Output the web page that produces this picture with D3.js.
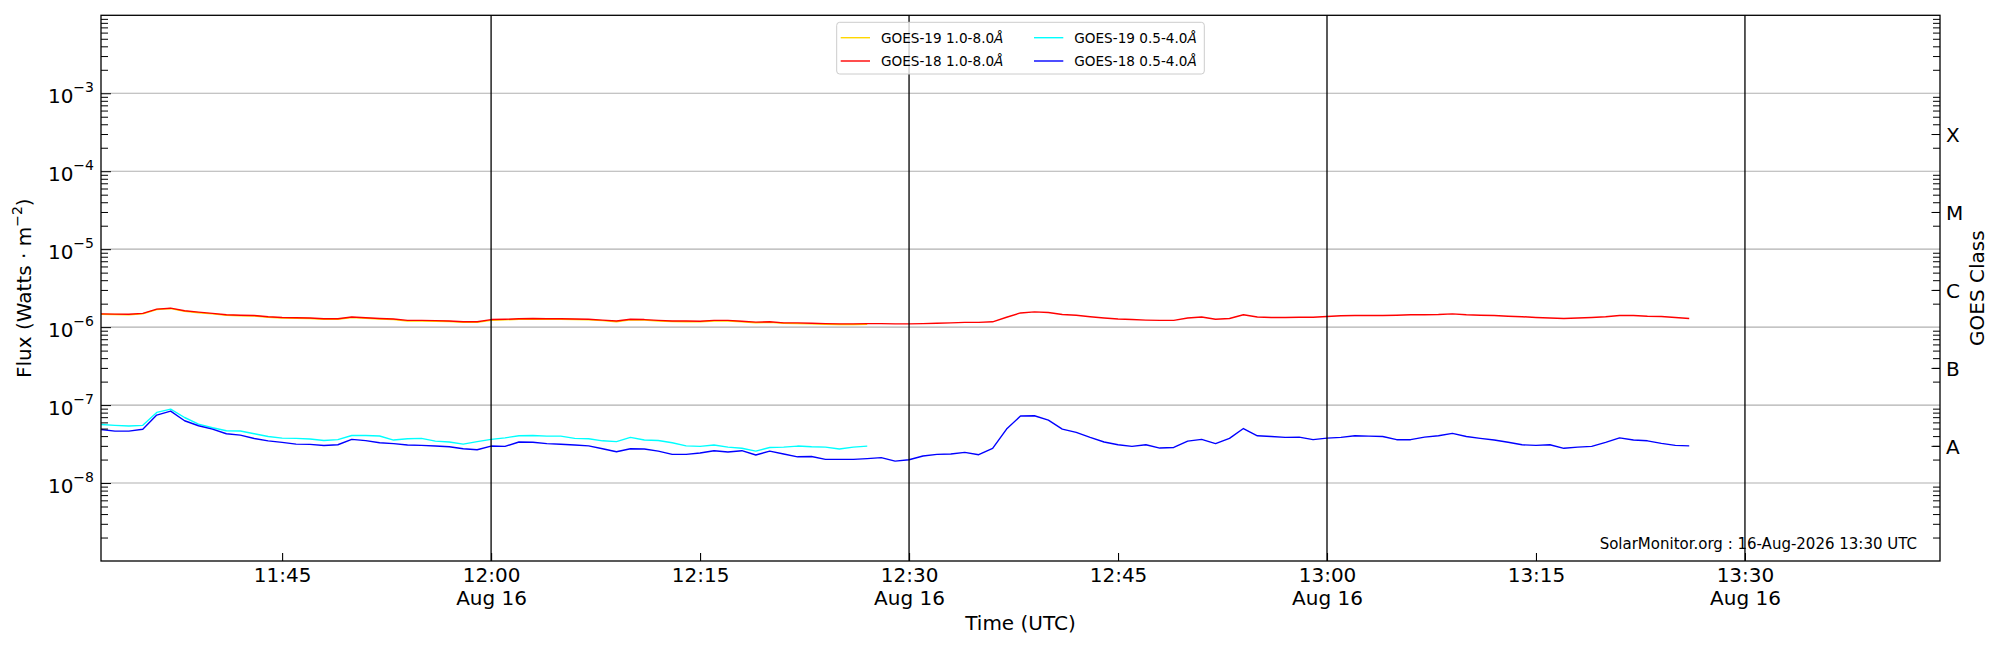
<!DOCTYPE html>
<html>
<head>
<meta charset="utf-8">
<script src="https://cdn.jsdelivr.net/npm/d3@7"></script>
<style>
  body { margin: 0; background: #fff; }
  svg { display: block; font-family: "DejaVu Sans", sans-serif; }
</style>
</head>
<body>
<svg id="chart" width="2000" height="650"></svg>
<script>
// GOES X-ray flux, one-minute samples on 16 Aug
const day = "2026-08-16";

const sampleTimes = [
  "11:32","11:33","11:34","11:35","11:36","11:37","11:38","11:39","11:40","11:41",
  "11:42","11:43","11:44","11:45","11:46","11:47","11:48","11:49","11:50","11:51",
  "11:52","11:53","11:54","11:55","11:56","11:57","11:58","11:59","12:00","12:01",
  "12:02","12:03","12:04","12:05","12:06","12:07","12:08","12:09","12:10","12:11",
  "12:12","12:13","12:14","12:15","12:16","12:17","12:18","12:19","12:20","12:21",
  "12:22","12:23","12:24","12:25","12:26","12:27","12:28","12:29","12:30","12:31",
  "12:32","12:33","12:34","12:35","12:36","12:37","12:38","12:39","12:40","12:41",
  "12:42","12:43","12:44","12:45","12:46","12:47","12:48","12:49","12:50","12:51",
  "12:52","12:53","12:54","12:55","12:56","12:57","12:58","12:59","13:00","13:01",
  "13:02","13:03","13:04","13:05","13:06","13:07","13:08","13:09","13:10","13:11",
  "13:12","13:13","13:14","13:15","13:16","13:17","13:18","13:19","13:20","13:21",
  "13:22","13:23","13:24","13:25","13:26"
];

// GOES-19 1.0-8.0 A (gold), 11:32 - 12:27
const goes19Long = [
  1.46e-6,1.45e-6,1.44e-6,1.48e-6,1.68e-6,1.73e-6,1.60e-6,1.53e-6,1.48e-6,1.42e-6,
  1.40e-6,1.39e-6,1.34e-6,1.31e-6,1.30e-6,1.29e-6,1.26e-6,1.26e-6,1.33e-6,1.30e-6,
  1.27e-6,1.25e-6,1.20e-6,1.20e-6,1.19e-6,1.18e-6,1.15e-6,1.15e-6,1.22e-6,1.24e-6,
  1.26e-6,1.27e-6,1.26e-6,1.26e-6,1.25e-6,1.24e-6,1.21e-6,1.17e-6,1.24e-6,1.23e-6,
  1.20e-6,1.18e-6,1.17e-6,1.17e-6,1.20e-6,1.20e-6,1.17e-6,1.14e-6,1.15e-6,1.12e-6,
  1.11e-6,1.10e-6,1.09e-6,1.08e-6,1.08e-6,1.09e-6
];

// GOES-18 1.0-8.0 A (red), 11:32 - 13:26
const goes18Long = [
  1.48e-6,1.47e-6,1.46e-6,1.50e-6,1.70e-6,1.75e-6,1.62e-6,1.56e-6,1.50e-6,1.44e-6,
  1.42e-6,1.41e-6,1.36e-6,1.33e-6,1.32e-6,1.31e-6,1.28e-6,1.28e-6,1.35e-6,1.32e-6,
  1.29e-6,1.27e-6,1.22e-6,1.22e-6,1.21e-6,1.20e-6,1.17e-6,1.17e-6,1.25e-6,1.26e-6,
  1.28e-6,1.29e-6,1.28e-6,1.28e-6,1.27e-6,1.26e-6,1.23e-6,1.20e-6,1.26e-6,1.25e-6,
  1.22e-6,1.20e-6,1.20e-6,1.19e-6,1.22e-6,1.22e-6,1.19e-6,1.16e-6,1.17e-6,1.135e-6,
  1.135e-6,1.12e-6,1.11e-6,1.10e-6,1.10e-6,1.11e-6,1.11e-6,1.10e-6,1.10e-6,1.11e-6,
  1.12e-6,1.135e-6,1.15e-6,1.15e-6,1.17e-6,1.34e-6,1.52e-6,1.57e-6,1.54e-6,1.45e-6,
  1.42e-6,1.36e-6,1.31e-6,1.27e-6,1.25e-6,1.23e-6,1.22e-6,1.22e-6,1.31e-6,1.35e-6,
  1.26e-6,1.29e-6,1.44e-6,1.35e-6,1.33e-6,1.33e-6,1.34e-6,1.34e-6,1.37e-6,1.40e-6,
  1.41e-6,1.41e-6,1.41e-6,1.42e-6,1.44e-6,1.44e-6,1.45e-6,1.48e-6,1.44e-6,1.42e-6,
  1.41e-6,1.38e-6,1.36e-6,1.33e-6,1.31e-6,1.29e-6,1.31e-6,1.33e-6,1.36e-6,1.41e-6,
  1.41e-6,1.38e-6,1.37e-6,1.33e-6,1.29e-6
];

// GOES-19 0.5-4.0 A (cyan), 11:32 - 12:27
const goes19Short = [
  5.64e-8,5.50e-8,5.40e-8,5.50e-8,8.05e-8,8.87e-8,6.93e-8,5.70e-8,5.12e-8,4.69e-8,
  4.65e-8,4.29e-8,3.96e-8,3.77e-8,3.74e-8,3.68e-8,3.52e-8,3.60e-8,4.07e-8,4.07e-8,
  4.01e-8,3.56e-8,3.70e-8,3.74e-8,3.45e-8,3.36e-8,3.16e-8,3.40e-8,3.63e-8,3.80e-8,
  4.04e-8,4.07e-8,4.00e-8,4.00e-8,3.74e-8,3.70e-8,3.48e-8,3.40e-8,3.85e-8,3.56e-8,
  3.52e-8,3.29e-8,3.00e-8,2.95e-8,3.07e-8,2.89e-8,2.79e-8,2.57e-8,2.86e-8,2.89e-8,
  2.98e-8,2.92e-8,2.89e-8,2.73e-8,2.89e-8,2.98e-8
];

// GOES-18 0.5-4.0 A (blue), 11:32 - 13:26
const goes18Short = [
  4.87e-8,4.64e-8,4.64e-8,4.90e-8,7.45e-8,8.38e-8,6.30e-8,5.43e-8,4.92e-8,4.29e-8,
  4.12e-8,3.73e-8,3.48e-8,3.32e-8,3.16e-8,3.13e-8,3.03e-8,3.10e-8,3.63e-8,3.50e-8,
  3.29e-8,3.20e-8,3.07e-8,3.04e-8,2.98e-8,2.92e-8,2.75e-8,2.67e-8,2.98e-8,2.95e-8,
  3.36e-8,3.33e-8,3.20e-8,3.14e-8,3.07e-8,3.00e-8,2.75e-8,2.52e-8,2.75e-8,2.73e-8,
  2.57e-8,2.33e-8,2.33e-8,2.43e-8,2.60e-8,2.50e-8,2.60e-8,2.29e-8,2.57e-8,2.36e-8,
  2.17e-8,2.19e-8,2.01e-8,2.01e-8,2.01e-8,2.06e-8,2.12e-8,1.91e-8,1.99e-8,2.22e-8,
  2.33e-8,2.36e-8,2.47e-8,2.31e-8,2.78e-8,4.92e-8,7.23e-8,7.30e-8,6.40e-8,4.92e-8,
  4.46e-8,3.85e-8,3.36e-8,3.10e-8,2.95e-8,3.10e-8,2.81e-8,2.86e-8,3.45e-8,3.63e-8,
  3.20e-8,3.74e-8,5.00e-8,4.04e-8,3.96e-8,3.85e-8,3.88e-8,3.60e-8,3.77e-8,3.85e-8,
  4.04e-8,4.00e-8,3.96e-8,3.60e-8,3.60e-8,3.88e-8,4.04e-8,4.34e-8,3.96e-8,3.74e-8,
  3.56e-8,3.33e-8,3.10e-8,3.04e-8,3.10e-8,2.79e-8,2.89e-8,2.95e-8,3.33e-8,3.80e-8,
  3.56e-8,3.48e-8,3.23e-8,3.04e-8,3.00e-8
];

const seriesNames = ["GOES-19 1.0-8.0", "GOES-18 1.0-8.0", "GOES-19 0.5-4.0", "GOES-18 0.5-4.0"];
const seriesColors = ["#ffd700", "#ff0000", "#00ffff", "#0000ff"];
const seriesValues = [goes19Long, goes18Long, goes19Short, goes18Short];

const xDomain = ["11:32", "13:44"];
const xTickTimes = ["11:45", "12:00", "12:15", "12:30", "12:45", "13:00", "13:15", "13:30"];
const xTickDates = ["", "Aug 16", "", "Aug 16", "", "Aug 16", "", "Aug 16"];
const markerTimes = ["12:00", "12:30", "13:00", "13:30"];
const yDomain = [1e-9, 1e-2];
const yTickExps = [-3, -4, -5, -6, -7, -8];
const classLabels = ["X", "M", "C", "B", "A"];
const classLevels = [3e-4, 3e-5, 3e-6, 3e-7, 3e-8];
const stamp = "SolarMonitor.org : 16-Aug-2026 13:30 UTC";

const FONT = "DejaVu Sans";
const parseTime = d3.timeParse("%Y-%m-%d %H:%M");
const t = (s) => parseTime(day + " " + s);

const margin = { left: 101, right: 1940, top: 15.3, bottom: 561 };
const svg = d3.select("#chart");

const x = d3.scaleTime().domain(xDomain.map(t)).range([margin.left, margin.right]);
const y = d3.scaleLog().domain(yDomain).range([margin.bottom, margin.top]);

const minorTicks = [];
for (let e = -9; e <= -3; e++) {
  for (let k = 2; k <= 9; k++) minorTicks.push(k * Math.pow(10, e));
}

// horizontal grid at decades
svg.append("g")
  .selectAll("line")
  .data(yTickExps)
  .join("line")
  .attr("x1", margin.left)
  .attr("x2", margin.right)
  .attr("y1", (d) => y(Math.pow(10, d)))
  .attr("y2", (d) => y(Math.pow(10, d)))
  .attr("stroke", "#b0b0b0")
  .attr("stroke-width", 1.1);

// data lines
const line = d3.line()
  .x((d) => x(d.time))
  .y((d) => y(d.value));

seriesValues.forEach((vals, i) => {
  const pts = vals.map((v, j) => ({ time: t(sampleTimes[j]), value: v }));
  svg.append("path")
    .datum(pts)
    .attr("fill", "none")
    .attr("stroke", seriesColors[i])
    .attr("stroke-width", 1.4)
    .attr("stroke-linejoin", "round")
    .attr("d", line);
});

// black time markers
svg.append("g")
  .selectAll("line")
  .data(markerTimes)
  .join("line")
  .attr("x1", (d) => x(t(d)))
  .attr("x2", (d) => x(t(d)))
  .attr("y1", margin.top)
  .attr("y2", margin.bottom)
  .attr("stroke", "#000")
  .attr("stroke-width", 1.3);

// bottom axis, ticks inward, two-line labels
const xAxis = svg.append("g")
  .attr("transform", `translate(0,${margin.bottom})`)
  .call(d3.axisBottom(x).tickValues(xTickTimes.map(t)).tickSizeInner(-8).tickSizeOuter(0).tickFormat(""))
  .attr("font-family", FONT);
xAxis.select(".domain").remove();
xAxis.selectAll(".tick line").attr("stroke-width", 1.1);
xAxis.selectAll(".tick").each(function (d, i) {
  const g = d3.select(this);
  g.append("text").attr("y", 21).attr("fill", "#000").attr("font-size", 20)
    .attr("text-anchor", "middle").text(xTickTimes[i]);
  if (xTickDates[i]) {
    g.append("text").attr("y", 44).attr("fill", "#000").attr("font-size", 20)
      .attr("text-anchor", "middle").text(xTickDates[i]);
  }
});

// left axis: decades labelled, minor ticks inward
const yAxis = svg.append("g")
  .attr("transform", `translate(${margin.left},0)`)
  .call(d3.axisLeft(y).tickValues(yTickExps.map((e) => Math.pow(10, e))).tickSizeInner(-10).tickSizeOuter(0).tickFormat(""))
  .attr("font-family", FONT);
yAxis.select(".domain").remove();
yAxis.selectAll(".tick").each(function (d, i) {
  const txt = d3.select(this).append("text")
    .attr("x", -7).attr("y", 9).attr("fill", "#000").attr("font-size", 20)
    .attr("text-anchor", "end");
  txt.append("tspan").text("10");
  txt.append("tspan").attr("dy", -10.5).attr("font-size", 14).text("\u2212" + (-yTickExps[i]));
});
svg.append("g")
  .attr("transform", `translate(${margin.left},0)`)
  .call(d3.axisLeft(y).tickValues(minorTicks).tickSizeInner(-7).tickSizeOuter(0).tickFormat(""))
  .select(".domain").remove();

// right axis: GOES classes
svg.append("g")
  .attr("transform", `translate(${margin.right},0)`)
  .call(d3.axisRight(y).tickValues(minorTicks).tickSizeInner(-7).tickSizeOuter(0).tickFormat(""))
  .select(".domain").remove();
const rAxis = svg.append("g")
  .attr("transform", `translate(${margin.right},0)`)
  .call(d3.axisRight(y).tickValues(classLevels).tickSizeInner(-8.5).tickSizeOuter(0).tickFormat((d, i) => classLabels[i]))
  .attr("font-family", FONT);
rAxis.select(".domain").remove();
rAxis.selectAll(".tick text")
  .attr("x", 6).attr("dy", null).attr("y", 7.3)
  .attr("fill", "#000").attr("font-size", 20).attr("text-anchor", "start");

// frame
svg.append("rect")
  .attr("x", margin.left).attr("y", margin.top)
  .attr("width", margin.right - margin.left).attr("height", margin.bottom - margin.top)
  .attr("fill", "none").attr("stroke", "#000").attr("stroke-width", 1.3);

// axis titles
const flux = svg.append("text")
  .attr("transform", `translate(31,${(margin.top + margin.bottom) / 2}) rotate(-90)`)
  .attr("text-anchor", "middle").attr("font-size", 20).attr("fill", "#000");
flux.append("tspan").text("Flux (Watts \u00b7 m");
flux.append("tspan").attr("dy", -9).attr("font-size", 14).text("\u22122");
flux.append("tspan").attr("dy", 9).text(")");

svg.append("text")
  .attr("transform", `translate(1984,${(margin.top + margin.bottom) / 2}) rotate(-90)`)
  .attr("text-anchor", "middle").attr("font-size", 20).attr("fill", "#000")
  .text("GOES Class");

svg.append("text")
  .attr("x", (margin.left + margin.right) / 2).attr("y", 630)
  .attr("text-anchor", "middle").attr("font-size", 20).attr("fill", "#000")
  .text("Time (UTC)");

svg.append("text")
  .attr("x", 1917).attr("y", 549)
  .attr("text-anchor", "end").attr("font-size", 15).attr("fill", "#000")
  .text(stamp);

// legend, two columns filled top to bottom
const legend = svg.append("g").attr("transform", "translate(836.7,22.3)");
legend.append("rect")
  .attr("width", 367.6).attr("height", 51.7).attr("rx", 3)
  .attr("fill", "#fff").attr("fill-opacity", 0.8)
  .attr("stroke", "#cccccc").attr("stroke-width", 1);
seriesNames.forEach((name, i) => {
  const col = Math.floor(i / 2), row = i % 2;
  const gx = 4 + col * 193.3, gy = 15.4 + row * 23.3;
  legend.append("line")
    .attr("x1", gx).attr("x2", gx + 29.3).attr("y1", gy).attr("y2", gy)
    .attr("stroke", seriesColors[i]).attr("stroke-width", 1.4);
  const lt = legend.append("text")
    .attr("x", gx + 40.3).attr("y", gy + 5).attr("font-size", 13.6).attr("fill", "#000");
  lt.append("tspan").text(name);
  lt.append("tspan").attr("font-style", "italic").text("\u00c5");
});
</script>
</body>
</html>
